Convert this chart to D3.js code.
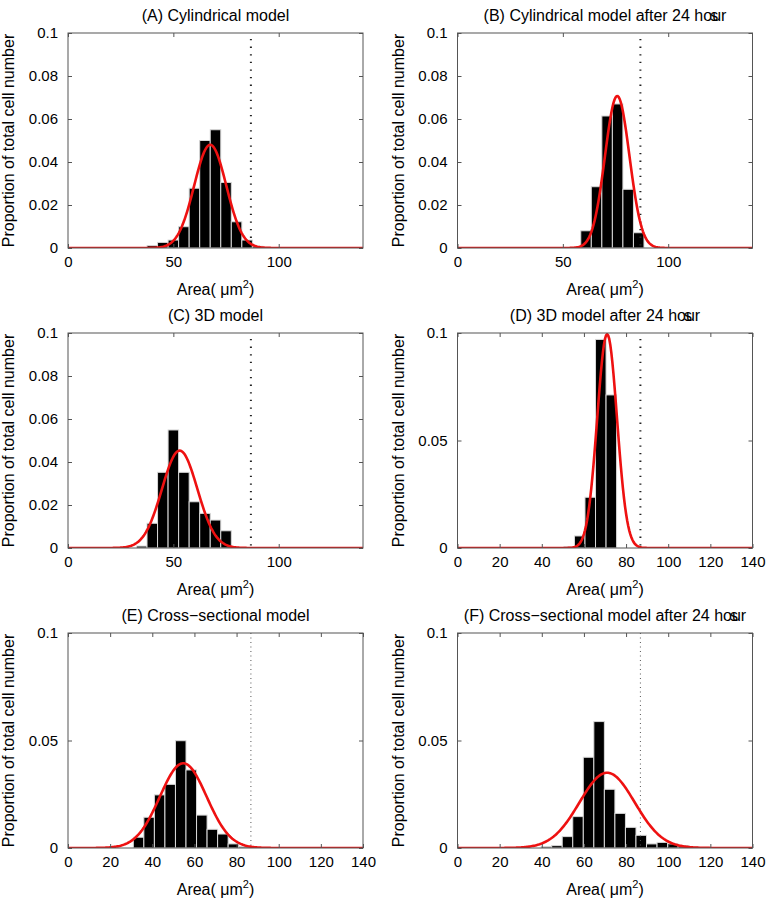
<!DOCTYPE html>
<html><head><meta charset="utf-8">
<script src="https://cdn.jsdelivr.net/npm/d3@7"></script>
<style>
body{margin:0;background:#fff;}
svg{display:block;font-family:"Liberation Sans",Arial,sans-serif;}
</style></head>
<body><svg id="chart" width="773" height="907"></svg>
<script>
// ---------- data ----------
const titles = ["(A) Cylindrical model","(B) Cylindrical model after 24 hour","(C) 3D model",
                "(D) 3D model after 24 hour","(E) Cross\u2212sectional model","(F) Cross\u2212sectional model after 24 hour"];
const binsA = [40,45,50,55,60,65,70,75,80,85,90];
const propA = [0.0011,0.0026,0.0037,0.0099,0.0278,0.050,0.055,0.0305,0.0122,0.0037,0.0008];
const binsB = [61,66,71,76,81,86];
const propB = [0.008,0.0285,0.0614,0.067,0.0273,0.0071];
const binsC = [35,40,45,50,55,60,65,70,75];
const propC = [0.0009,0.0115,0.0352,0.0549,0.0352,0.0215,0.0161,0.013,0.008];
const binsD = [53,58,63,68,73];
const propD = [0.0006,0.0056,0.0236,0.097,0.0712];
const binsE = [33.5,38.5,43.5,48.5,53.5,58.5,63.5,68.5,73.5,78.5,83.5];
const propE = [0.005,0.0143,0.0247,0.0296,0.0499,0.0363,0.0153,0.0087,0.0065,0.0019,0.0006];
const binsF = [42.2,47.2,52.2,57.2,62.2,67.2,72.2,77.2,82.2,87.2,92.2,97.2,102.2,107.2,112.2];
const propF = [0.0006,0.0011,0.0053,0.0146,0.0422,0.0588,0.0273,0.0161,0.0096,0.0059,0.0019,0.0026,0.0019,0.0011,0.0005];
// fitted normal curves (mean, sd, peak height)
const fitMean = [67.5,75.8,53.0,71.0,54.7,71.0];
const fitSd   = [7.6,5.8,8.4,4.7,11.1,13.1];
const fitPeak = [0.048,0.0707,0.0453,0.0995,0.0394,0.035];
const thresholdArea = 86.8;
const binWidth = 5;
const xTicksCoarse = [0,50,100];
const xTicksFine = [0,20,40,60,80,100,120,140];
const yTicksFine = [0,0.02,0.04,0.06,0.08,0.1];
const yTicksCoarse = [0,0.05,0.1];
const xDomain = [0,140];
const yDomain = [0,0.1];

// ---------- layout ----------
const colX = [68,457.5], rowY = [33,333,633], pw = 295, ph = 215;
const svg = d3.select("#chart");
const bins = [binsA,binsB,binsC,binsD,binsE,binsF];
const props = [propA,propB,propC,propD,propE,propF];
const xTickSets = [xTicksCoarse,xTicksCoarse,xTicksCoarse,xTicksFine,xTicksFine,xTicksFine];
const yTickSets = [yTicksFine,yTicksFine,yTicksFine,yTicksCoarse,yTicksCoarse,yTicksCoarse];
const fmtY = d => d===0 ? "0" : String(+d.toFixed(3));

for (let i=0;i<6;i++){
  const cx = colX[i%2], cy = rowY[Math.floor(i/2)];
  const g = svg.append("g").attr("transform",`translate(${cx},${cy})`);
  const x = d3.scaleLinear().domain(xDomain).range([0,pw]);
  const y = d3.scaleLinear().domain(yDomain).range([ph,0]);
  const clipId = "clip"+i;
  g.append("clipPath").attr("id",clipId).append("rect").attr("width",pw).attr("height",ph);
  const plot = g.append("g").attr("clip-path",`url(#${clipId})`);

  // bars
  plot.selectAll("rect.bar").data(bins[i].map((b,k)=>({b,v:props[i][k]}))).enter()
    .append("rect").attr("class","bar")
    .attr("x",d=>x(d.b-binWidth/2)).attr("width",d=>x(d.b+binWidth/2)-x(d.b-binWidth/2))
    .attr("y",d=>y(d.v)).attr("height",d=>y(0)-y(d.v))
    .attr("fill","#000").attr("stroke","#d8d8d8").attr("stroke-width",1);

  // dotted threshold line
  const thin = i>=4;
  plot.append("line").attr("x1",x(thresholdArea)).attr("x2",x(thresholdArea))
    .attr("y1",thin?0:6).attr("y2",ph)
    .attr("stroke",thin?"#555":"#222").attr("stroke-width",thin?1:2)
    .attr("stroke-dasharray",thin?"1,3.5":"1.3,6.3");

  // fitted curve
  const xs = d3.range(0,140.01,0.5);
  const curve = xs.map(a=>[a, fitPeak[i]*Math.exp(-((a-fitMean[i])**2)/(2*fitSd[i]**2))]);
  plot.append("path").datum(curve)
    .attr("d",d3.line().x(d=>x(d[0])).y(d=>y(d[1])))
    .attr("fill","none").attr("stroke","#ee1111").attr("stroke-width",2.6);

  // axes: bottom + top + left + right with inward ticks
  const tl = 4;
  const xb = g.append("g").attr("transform",`translate(0,${ph})`)
    .call(d3.axisBottom(x).tickValues(xTickSets[i]).tickSizeInner(-tl).tickSizeOuter(0).tickPadding(8).tickFormat(d3.format("d")));
  const xt = g.append("g")
    .call(d3.axisTop(x).tickValues(xTickSets[i]).tickSizeInner(-tl).tickSizeOuter(0).tickFormat(""));
  const yl = g.append("g")
    .call(d3.axisLeft(y).tickValues(yTickSets[i]).tickSizeInner(-tl).tickSizeOuter(0).tickPadding(10).tickFormat(fmtY));
  const yr = g.append("g").attr("transform",`translate(${pw},0)`)
    .call(d3.axisRight(y).tickValues(yTickSets[i]).tickSizeInner(-tl).tickSizeOuter(0).tickFormat(""));
  [xb,xt,yl,yr].forEach(a=>{
    a.select(".domain").remove();
    a.selectAll("line").attr("stroke","#555");
    a.selectAll("text").attr("fill","#000").style("font-size","15px").style("font-family","Liberation Sans, Arial, sans-serif");
  });
  xb.selectAll("text").attr("dy","0.71em");
  g.append("rect").attr("width",pw).attr("height",ph).attr("fill","none").attr("stroke","#555").attr("stroke-width",1);

  // title
  const t = g.append("text").attr("x",pw/2).attr("y",-12).attr("text-anchor","middle")
    .style("font-size","16px").attr("fill","#000").text(titles[i]);
  if (i%2===1){
    // the reference shows a stray "s" drawn over the "u" of "hour"
    const str = titles[i];
    const idx = str.lastIndexOf("u");
    const p = t.node().getStartPositionOfChar(idx);
    g.append("text").attr("x",p.x-2).attr("y",-12).style("font-size","16px").attr("fill","#000").text("s");
  }

  // x label
  const xl = g.append("text").attr("x",pw/2).attr("y",ph+47).attr("text-anchor","middle")
    .style("font-size","16px").attr("fill","#000");
  xl.append("tspan").text("Area( \u03bcm");
  xl.append("tspan").attr("dy",-7).style("font-size","11px").text("2");
  xl.append("tspan").attr("dy",7).text(")");

  // y label
  g.append("text").attr("transform",`translate(${-54},${ph/2}) rotate(-90)`)
    .attr("text-anchor","middle").style("font-size","16px").attr("fill","#000")
    .text("Proportion of total cell number");
}
</script></body></html>
